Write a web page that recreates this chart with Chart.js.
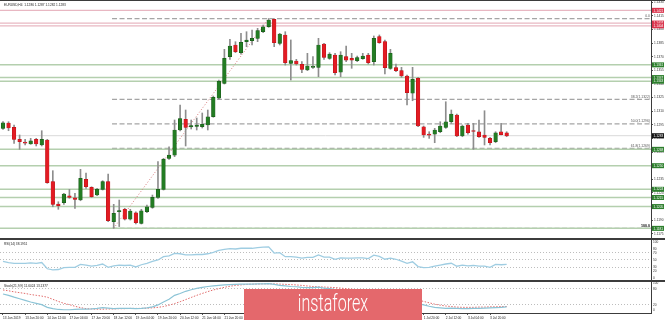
<!DOCTYPE html>
<html><head><meta charset="utf-8">
<script src="https://cdn.jsdelivr.net/npm/chart.js@4.4.1/dist/chart.umd.min.js"></script>
<style>
html,body{margin:0;padding:0;background:#fff;}
#wrap{position:relative;width:665px;height:320px;overflow:hidden;background:#fff;}
.pane{position:absolute;left:0;}
canvas{display:block;}
.lbl{position:absolute;font-family:"Liberation Sans",Arial,sans-serif;font-size:3.2px;line-height:4px;color:#222;white-space:nowrap;}
.sep{position:absolute;left:0;width:665px;background:#3c3c3c;}
#logo{position:absolute;left:244px;top:289px;width:178px;height:31px;background:#e4686c;overflow:hidden;}
#logo span{position:absolute;left:0;width:178px;text-align:center;top:3px;color:#fff;font-family:Roboto,"Open Sans",sans-serif;font-weight:300;font-size:23px;line-height:23px;transform:scaleX(0.7);transform-origin:50% 0;white-space:nowrap;}
</style></head>
<body>
<div id="wrap">
  <div class="pane" style="top:0;"><canvas id="main" width="665" height="239"></canvas></div>
  <div class="pane" style="top:240px;"><canvas id="rsi" width="665" height="41"></canvas></div>
  <div class="pane" style="top:281px;"><canvas id="stoch" width="665" height="39"></canvas></div>
  <div class="sep" style="top:0;height:1px;"></div>
  <div class="sep" style="top:238px;height:2px;"></div>
  <div class="sep" style="top:280px;height:2px;"></div>
  <div class="lbl" style="left:4px;top:3px;">EURUSD,H4&nbsp; 1.1286 1.1287 1.1282 1.1283</div>
  <div class="lbl" style="left:4px;top:242px;">RSI(14) 38.1951</div>
  <div class="lbl" style="left:4px;top:284px;">Stoch(21,9,9) 11.6024 13.1377</div>
  <div id="logo"><span>instaforex</span></div>
</div>
<script>
// ---------------- data ----------------
const opens = [1.12911,1.12970,1.12922,1.12790,1.12752,1.12739,1.12790,1.12728,1.12783,1.12324,
1.12078,1.12092,1.12169,1.12147,1.12122,1.12350,1.12262,1.12177,1.12240,1.12324,
1.11883,1.11993,1.12020,1.11910,1.11982,1.11865,1.11993,1.12041,1.12152,1.12240,
1.12581,1.12617,1.12893,1.13011,1.12926,1.12931,1.12929,1.12948,1.13039,1.13242,
1.13407,1.13700,1.13829,1.13744,1.13865,1.13876,1.13902,1.13975,1.14030,1.14112,
1.13847,1.13939,1.13627,1.13652,1.13616,1.13553,1.13583,1.13583,1.13840,1.13682,
1.13718,1.13530,1.13700,1.13682,1.13656,1.13678,1.13718,1.13645,1.13920,1.13865,
1.13572,1.13580,1.13546,1.13487,1.13297,1.13462,1.12929,1.12848,1.12848,1.12874,
1.12922,1.12984,1.13058,1.12827,1.12948,1.12882,1.12874,1.12838,1.12801,1.12764,
1.12874,1.12863];
const highs = [1.12986,1.12984,1.12948,1.12838,1.12790,1.12801,1.12801,1.12885,1.12790,1.12445,
1.12103,1.12196,1.12240,1.12196,1.12460,1.12420,1.12268,1.12251,1.12335,1.12409,
1.12075,1.12122,1.12031,1.12020,1.11993,1.12020,1.12067,1.12177,1.12544,1.12581,
1.12709,1.13003,1.13168,1.13113,1.13003,1.13025,1.13080,1.13113,1.13267,1.13443,
1.13781,1.13891,1.13865,1.13957,1.13975,1.13994,1.14012,1.14049,1.14120,1.14115,
1.13957,1.13975,1.13884,1.13671,1.13645,1.13737,1.13700,1.13902,1.13847,1.13744,
1.13737,1.13755,1.13818,1.13737,1.13707,1.13737,1.13737,1.13928,1.13939,1.13884,
1.13781,1.13619,1.13583,1.13498,1.13583,1.13473,1.12937,1.12874,1.12911,1.12984,
1.13204,1.13113,1.13069,1.12948,1.12966,1.12966,1.13003,1.13105,1.12812,1.12874,
1.12966,1.12874];
const lows = [1.12898,1.12885,1.12746,1.12680,1.12728,1.12735,1.12717,1.12717,1.12306,1.12048,
1.12020,1.12075,1.12141,1.12031,1.12114,1.12251,1.12152,1.12169,1.12232,1.11883,
1.11811,1.11830,1.11902,1.11902,1.11858,1.11858,1.11982,1.12031,1.12141,1.12232,
1.12570,1.12599,1.12882,1.12717,1.12904,1.12893,1.12915,1.12893,1.13033,1.13231,
1.13399,1.13671,1.13744,1.13729,1.13810,1.13829,1.13865,1.13964,1.14023,1.13810,
1.13829,1.13608,1.13443,1.13608,1.13524,1.13546,1.13572,1.13480,1.13671,1.13671,
1.13498,1.13480,1.13645,1.13572,1.13645,1.13671,1.13619,1.13608,1.13847,1.13509,
1.13561,1.13535,1.13473,1.13168,1.13215,1.12929,1.12812,1.12801,1.12753,1.12863,
1.12911,1.12966,1.12819,1.12819,1.12848,1.12680,1.12812,1.12728,1.12728,1.12753,
1.12838,1.12819];
const closes = [1.12973,1.12915,1.12790,1.12764,1.12748,1.12775,1.12739,1.12790,1.12313,1.12075,
1.12059,1.12188,1.12152,1.12130,1.12361,1.12268,1.12158,1.12240,1.12324,1.11894,
1.11976,1.12007,1.11910,1.12001,1.11872,1.12004,1.12048,1.12152,1.12240,1.12570,
1.12617,1.12893,1.13019,1.12922,1.12942,1.12948,1.12956,1.13039,1.13253,1.13429,
1.13682,1.13818,1.13755,1.13858,1.13884,1.13902,1.13986,1.14030,1.14104,1.13854,
1.13950,1.13634,1.13656,1.13619,1.13561,1.13597,1.13592,1.13829,1.13693,1.13729,
1.13524,1.13718,1.13663,1.13663,1.13689,1.13707,1.13634,1.13902,1.13854,1.13580,
1.13737,1.13546,1.13487,1.13303,1.13451,1.12937,1.12838,1.12837,1.12893,1.12937,
1.12984,1.13069,1.12827,1.12937,1.12863,1.12876,1.12819,1.12812,1.12753,1.12863,
1.12841,1.12827];
const rsiValues = [46,43,41,41,41,42,41,43,26,23, 24,29,30,30,38,36,33,35,39,30,
34,36,35,36,31,37,41,46,50,59, 61,68,67,64,64,65,65,67,71,76,
79,81,80,82,82,82,84,85,86,69, 70,59,59,58,55,57,57,64,58,58,
52,56,55,55,56,56,54,63,60,52, 55,52,47,41,45,32,29,30,33,36,
39,41,33,36,34,35,33,33,30,38, 37,38];
const stochMain = [60,55,48,42,36,30,25,20,10,5, 2,1,1,2,3,3,4,6,9,7,
5,6,6,6,5,6,8,12,19,30, 40,55,62,70,76,81,85,88,90,92,
94,95,96,97,97,97,98,98,99,96, 92,90,88,87,85,84,84,86,82,80,
76,72,68,65,63,62,60,62,60,55, 52,48,42,36,32,24,19,14,10,8,
6,7,6,5,5,6,6,7,8,9, 10,11.6];
const stochSignal = [75,72,68,65,62,58,55,52,48,40, 32,25,20,14,9,5,4,3,3,4,
4,5,5,6,6,6,7,8,10,13, 18,24,31,39,47,55,62,69,75,80,
85,89,92,94,96,97,97,98,98,98, 97,96,95,94,92,90,88,87,86,85,
84,82,80,78,75,72,70,68,66,64, 62,59,56,52,47,38,32,27,22,18,
15,13,11,10,10,10,11,11,12,12, 13,13.1];
const timeTickIndex = [0,4,8,12,16,20,24,28,32,36,40,44,48,52,56,60,64,68,72,76,80,84,88];
const timeTickLabels = ["13 Jun 2019","13 Jun 20:00","14 Jun 12:00","17 Jun 04:00","17 Jun 20:00","18 Jun 12:00",
"19 Jun 04:00","19 Jun 20:00","20 Jun 12:00","21 Jun 04:00","21 Jun 20:00","24 Jun 12:00","25 Jun 04:00",
"25 Jun 20:00","26 Jun 12:00","27 Jun 04:00","27 Jun 20:00","28 Jun 12:00","1 Jul 04:00","1 Jul 20:00",
"2 Jul 12:00","3 Jul 04:00","3 Jul 20:00"];
const priceTicks = [1.1175,1.1190,1.1205,1.1220,1.1235,1.1250,1.1265,1.1280,1.1295,1.1310,1.1325,1.1340,1.1355,1.1370,1.1385,1.1400,1.1415,1.1430];
const rsiTicks = [0,20,30,50,70,80,100];
const stochTicks = [0,20,80,100];
const rsiLevels = [70,50,30];
const stochLevels = [80,20];
const resistanceLevels = [1.1421,1.1407,1.1404];
const supportLevels = [1.1361,1.1347,1.1343,1.1268,1.1250,1.1224,1.1215,1.1205,1.1181];
const fibLevels = [1.1412,1.1323,1.1296,1.1269,1.1181];
const fibLabels = ["0.0","38.2(1.1322)","50.0(1.1296)","61.8(1.1269)","100.0"];
const lastPrice = 1.1283;
const fibStartIndex = 20, fibEndIndex = 48;

// ---------------- layout ----------------
const X_MIN = -0.542, X_MAX = 117.08, AXIS_W = 14;
const FONT = '"Liberation Sans", Arial, sans-serif';
const SMALL = 3.2;
Chart.defaults.font.family = FONT;
const idx = opens.map((_, i) => i);
const GREEN = '#237c23', GREEN_B = '#145214', RED = '#e31b23', RED_B = '#b31217';

function fixY(s){ s.width = AXIS_W; s.paddingTop = 0; s.paddingBottom = 0; }
function xAxis(){ return {type:'linear', min:X_MIN, max:X_MAX, display:false, offset:false}; }
function levelLine(v, color, width, dash, fromX){
  return {type:'line', data:[{x:fromX, y:v},{x:X_MAX, y:v}], borderColor:color, borderWidth:width,
          borderDash:dash, pointRadius:0, fill:false, order:5};
}
const common = {animation:false, responsive:false, devicePixelRatio:1,
  layout:{padding:0, autoPadding:false},
  plugins:{legend:{display:false}, tooltip:{enabled:false}, title:{display:false}}};

const axisBoxes = {
  id:'axisBoxes',
  afterDraw(chart){
    const ys = chart.scales.y, c = chart.ctx, R = chart.chartArea.right;
    c.save();
    function box(v, bg){
      const y = ys.getPixelForValue(v);
      c.fillStyle = bg; c.fillRect(R + 1, y - 2.5, 12, 5);
      c.fillStyle = '#fff'; c.font = SMALL + 'px ' + FONT; c.textAlign = 'left'; c.textBaseline = 'middle';
      c.fillText(v.toFixed(4), R + 2.5, y + 0.3);
    }
    resistanceLevels.forEach(v => box(v, '#d9344c'));
    supportLevels.forEach(v => box(v, '#2d7f2d'));
    box(lastPrice, '#141414');
    c.textAlign = 'right'; c.textBaseline = 'bottom';
    fibLevels.forEach((v, k) => {
      const y = ys.getPixelForValue(v);
      const last = k === fibLevels.length - 1;
      c.font = (last ? 'bold 3.6px ' : '3.4px ') + FONT;
      c.fillStyle = last ? '#000' : '#555';
      c.fillText(fibLabels[k], R - 1, y - 0.8);
    });
    c.restore();
  }
};

// ---------------- main price chart ----------------
const mainSets = [
  {type:'bar', data: idx.map(i => ({x:i, y:[opens[i], closes[i]]})),
   backgroundColor: idx.map(i => closes[i] >= opens[i] ? GREEN : RED),
   borderColor: idx.map(i => closes[i] >= opens[i] ? GREEN_B : RED_B),
   borderWidth:0.5, borderSkipped:false, barThickness:3.6, minBarLength:1, grouped:false, order:0},
  {type:'bar', data: idx.map(i => ({x:i, y:[lows[i], highs[i]]})),
   backgroundColor:'#8d8d8d', barThickness:1, grouped:false, order:1}
];
resistanceLevels.forEach(v => mainSets.push(levelLine(v, '#e8b7c2', 1.3, [], X_MIN)));
supportLevels.forEach(v => mainSets.push(levelLine(v, '#b4cfae', 1.5, [], X_MIN)));
mainSets.push(levelLine(lastPrice, '#d9d9d9', 1, [], X_MIN));
fibLevels.forEach(v => mainSets.push(levelLine(v, '#a5a5a5', 1.2, [5,2.5], fibStartIndex - 0.3)));
mainSets.push({type:'line', data:[{x:fibStartIndex, y:lows[fibStartIndex]},{x:fibEndIndex, y:highs[fibEndIndex]}],
  borderColor:'#d77a7a', borderWidth:1, borderDash:[1,2], pointRadius:0, fill:false, order:4});

new Chart(document.getElementById('main'), {
  type:'bar',
  data:{datasets: mainSets},
  options:Object.assign({}, common, {
    scales:{
      x: xAxis(),
      y: {position:'right', min:1.11693, max:1.14324,
          afterBuildTicks: s => { s.ticks = priceTicks.map(v => ({value:v})); },
          afterFit: fixY,
          grid:{display:true, drawOnChartArea:false, tickLength:2, color:'#555'},
          border:{display:true, color:'#3c3c3c', width:1},
          ticks:{callback: v => Number(v).toFixed(4), font:{size:SMALL}, color:'#333', padding:1, autoSkip:false}}
    }
  }),
  plugins:[axisBoxes]
});

// ---------------- RSI ----------------
new Chart(document.getElementById('rsi'), {
  type:'line',
  data:{datasets:[{data: idx.map(i => ({x:i, y:rsiValues[i]})), borderColor:'#9fcde2', borderWidth:1.3,
    pointRadius:0, fill:false, tension:0}]},
  options:Object.assign({}, common, {
    scales:{
      x: xAxis(),
      y: {position:'right', min:-7.4, max:104.6,
          afterBuildTicks: s => { s.ticks = rsiTicks.map(v => ({value:v})); },
          afterFit: fixY,
          grid:{display:true, drawOnChartArea:true, drawTicks:false,
                color: ctx => rsiLevels.includes(ctx.tick && ctx.tick.value) ? '#bdbdbd' : 'rgba(0,0,0,0)', lineWidth:1},
          border:{display:true, color:'#3c3c3c', width:1, dash:[1,2]},
          ticks:{font:{size:SMALL}, color:'#333', padding:2, autoSkip:false}}
    }
  })
});

// ---------------- Stochastic ----------------
new Chart(document.getElementById('stoch'), {
  type:'line',
  data:{datasets:[
    {data: idx.map(i => ({x:i, y:stochMain[i]})), borderColor:'#8cc4d6', borderWidth:1.2, pointRadius:0, fill:false, tension:0},
    {data: idx.map(i => ({x:i, y:stochSignal[i]})), borderColor:'#e06a6a', borderWidth:1, borderDash:[1.5,1.5], pointRadius:0, fill:false, tension:0}
  ]},
  options:Object.assign({}, common, {
    scales:{
      x: {type:'linear', min:X_MIN, max:X_MAX, display:true, offset:false, position:'bottom',
          afterBuildTicks: s => { s.ticks = timeTickIndex.map(v => ({value:v})); },
          afterFit: s => { s.height = 7; s.paddingLeft = 0; s.paddingRight = 0; },
          grid:{display:true, drawOnChartArea:false, tickLength:2, color:'#555'},
          border:{display:true, color:'#3c3c3c', width:1},
          ticks:{callback:(v, i) => timeTickLabels[i], align:'start', autoSkip:false, maxRotation:0, minRotation:0,
                 font:{size:SMALL}, color:'#222', padding:1}},
      y: {position:'right', min:-11.2, max:108.6,
          afterBuildTicks: s => { s.ticks = stochTicks.map(v => ({value:v})); },
          afterFit: fixY,
          grid:{display:true, drawOnChartArea:true, drawTicks:false,
                color: ctx => stochLevels.includes(ctx.tick && ctx.tick.value) ? '#bdbdbd' : 'rgba(0,0,0,0)', lineWidth:1},
          border:{display:true, color:'#3c3c3c', width:1, dash:[1,2]},
          ticks:{font:{size:SMALL}, color:'#333', padding:2, autoSkip:false}}
    }
  })
});
</script>
</body></html>
